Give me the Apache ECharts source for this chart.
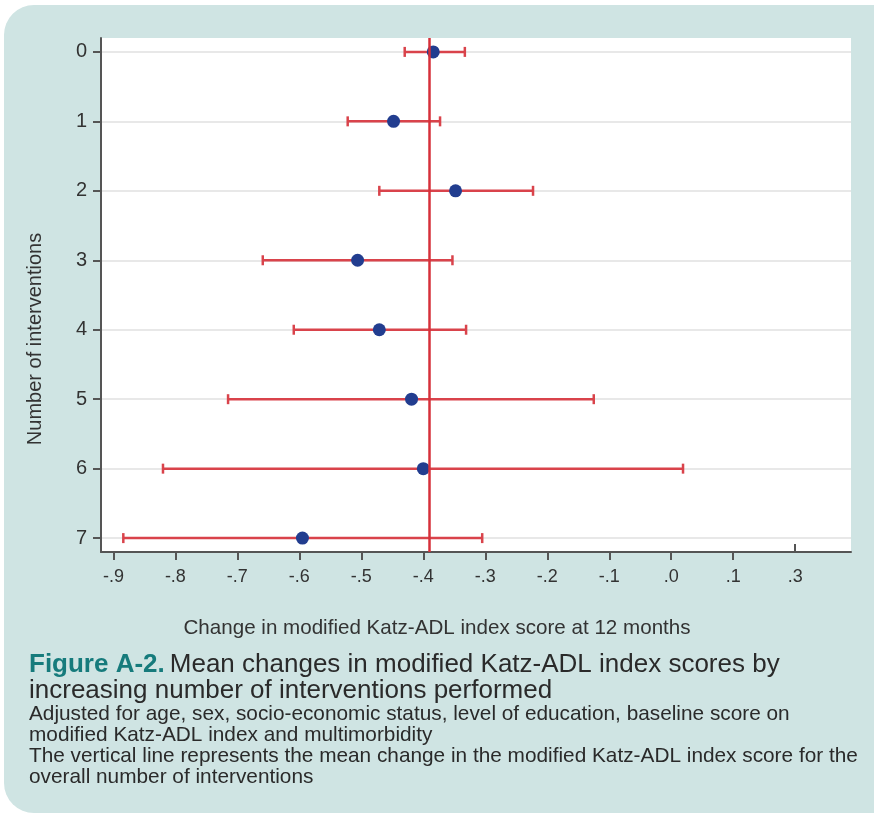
<!DOCTYPE html>
<html>
<head>
<meta charset="utf-8">
<script src="https://cdn.jsdelivr.net/npm/echarts@6/dist/echarts.min.js"></script>
<style>
  html, body { margin: 0; padding: 0; background: #fff; }
  #chart { width: 874px; height: 816px; }
</style>
</head>
<body>
<div id="chart"></div>
<script>
// number of interventions (y categories)
var groups = [0, 1, 2, 3, 4, 5, 6, 7]
// mean change and 95% CI
var means = [-0.384, -0.448, -0.348, -0.506, -0.471, -0.419, -0.400, -0.595]
var lower = [-0.430, -0.522, -0.471, -0.659, -0.609, -0.715, -0.820, -0.884]
var upper = [-0.333, -0.373, -0.223, -0.353, -0.331, -0.125, 0.019, -0.305]
var overallMean = -0.39
// x ticks as printed (the last one is labelled .3 in the original)
var xTickValues = [-0.9, -0.8, -0.7, -0.6, -0.5, -0.4, -0.3, -0.2, -0.1, 0, 0.1, 0.2]
var xTickLabels = ['-.9', '-.8', '-.7', '-.6', '-.5', '-.4', '-.3', '-.2', '-.1', '.0', '.1', '.3']

var red = '#d9434b'
var barData = groups.map(function (g, i) { return [lower[i], upper[i], g] })
var dotData = groups.map(function (g, i) { return [means[i], g] })

function xLabel (v) {
  for (var i = 0; i < xTickValues.length; i++) {
    if (Math.abs(xTickValues[i] - v) < 1e-6) return xTickLabels[i]
  }
  return ''
}

var chart = echarts.init(document.getElementById('chart'))
chart.setOption({
  animation: false,
  textStyle: { fontFamily: 'Liberation Sans, Arial, sans-serif' },
  graphic: [
    {
      type: 'rect',
      z: -10,
      silent: true,
      shape: { x: 4, y: 5, width: 900, height: 808, r: 30 },
      style: { fill: '#cfe4e3' }
    }
  ],
  title: {
    left: 29,
    top: 652,
    padding: 0,
    text: '{b|Figure A-2.} {n|Mean changes in modified Katz-ADL index scores by}\n' +
      '{n|increasing number of interventions performed}\n' +
      '{s|Adjusted for age, sex, socio-economic status, level of education, baseline score on}\n' +
      '{s|modified Katz-ADL index and multimorbidity}\n' +
      '{s|The vertical line represents the mean change in the modified Katz-ADL index score for the}\n' +
      '{s|overall number of interventions}',
    textStyle: {
      fontWeight: 'normal',
      rich: {
        b: { fontSize: 26, fontWeight: 'bold', color: '#167b7c', lineHeight: 26 },
        n: { fontSize: 26, fontWeight: 'normal', color: '#2a2a2a', lineHeight: 26 },
        s: { fontSize: 20.8, fontWeight: 'normal', color: '#2a2a2a', lineHeight: 21 }
      }
    }
  },
  grid: {
    left: 101,
    top: 38,
    right: 23,
    bottom: 264,
    show: true,
    backgroundColor: '#fff',
    borderWidth: 0
  },
  xAxis: [
    {
      type: 'value',
      min: -0.92,
      max: 0.29,
      name: 'Change in modified Katz-ADL index score at 12 months',
      nameLocation: 'middle',
      nameGap: 66,
      nameTextStyle: { fontSize: 20.6, color: '#333', padding: [0, 78, 0, 0] },
      axisLine: { show: true, onZero: false, lineStyle: { color: '#555', width: 2 } },
      axisTick: { show: true, length: 8, customValues: xTickValues.slice(0, 11), lineStyle: { color: '#555', width: 2 } },
      axisLabel: { customValues: xTickValues, formatter: xLabel, fontSize: 18, color: '#333', margin: 16 },
      splitLine: { show: false }
    },
    {
      type: 'value',
      min: -0.92,
      max: 0.29,
      position: 'bottom',
      axisLine: { show: false, onZero: false },
      axisTick: { show: true, inside: true, length: 8, customValues: [0.2], lineStyle: { color: '#555', width: 2 } },
      axisLabel: { show: false },
      splitLine: { show: false }
    }
  ],
  yAxis: {
    type: 'value',
    inverse: true,
    min: -0.2,
    max: 7.2,
    name: 'Number of interventions',
    nameLocation: 'middle',
    nameGap: 56,
    nameRotate: 90,
    nameTextStyle: { fontSize: 20, color: '#333', padding: [0, 88, 0, 0] },
    axisLine: { show: true, onZero: false, lineStyle: { color: '#555', width: 2 } },
    axisTick: { show: true, length: 8, customValues: groups, lineStyle: { color: '#555', width: 2 } },
    axisLabel: { customValues: groups, fontSize: 20, color: '#333', margin: 14 },
    splitLine: { show: true, lineStyle: { color: '#e8e8e8', width: 2 } }
  },
  series: [
    {
      type: 'custom',
      data: barData,
      encode: { x: [0, 1], y: 2 },
      z: 2,
      renderItem: function (params, api) {
        var lo = api.coord([api.value(0), api.value(2)])
        var hi = api.coord([api.value(1), api.value(2)])
        var cap = 5
        var style = { stroke: red, lineWidth: 2.5 }
        return {
          type: 'group',
          children: [
            { type: 'line', shape: { x1: lo[0], y1: lo[1], x2: hi[0], y2: hi[1] }, style: style },
            { type: 'line', shape: { x1: lo[0], y1: lo[1] - cap, x2: lo[0], y2: lo[1] + cap }, style: style },
            { type: 'line', shape: { x1: hi[0], y1: hi[1] - cap, x2: hi[0], y2: hi[1] + cap }, style: style }
          ]
        }
      }
    },
    {
      type: 'scatter',
      data: dotData,
      symbolSize: 13,
      z: 4,
      itemStyle: { color: '#223d8f', opacity: 1 },
      markLine: {
        silent: true,
        symbol: 'none',
        label: { show: false },
        lineStyle: { color: '#d6303a', width: 2.5, type: 'solid' },
        data: [{ xAxis: overallMean }]
      }
    }
  ]
})
</script>
</body>
</html>
